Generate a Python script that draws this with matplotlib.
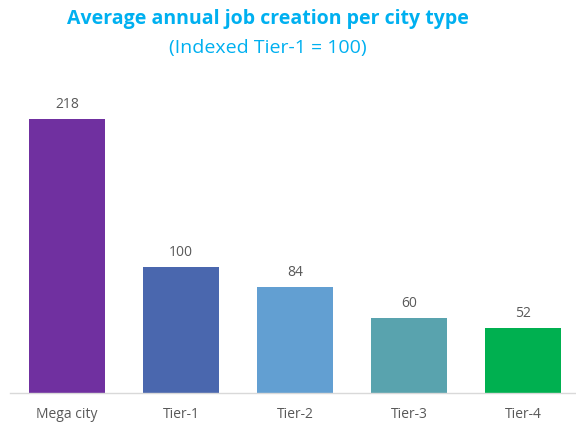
import matplotlib
matplotlib.use("Agg")
import matplotlib.pyplot as plt

# ── Data ──────────────────────────────────────────────────────────────────────
categories = ["Mega city", "Tier-1", "Tier-2", "Tier-3", "Tier-4"]
values     = [218, 100, 84, 60, 52]
colors     = ["#7030A0", "#4A67AE", "#629FD2", "#59A3AE", "#00B050"]

TITLE_BLUE = "#00B0F0"
GREY_TXT   = "#595959"

plt.rcParams["font.family"] = ["Open Sans", "DejaVu Sans"]

fig = plt.figure(figsize=(5.76, 4.23), dpi=100)
ax = fig.add_axes([10 / 576, 30 / 423, 570 / 576, 313 / 423])

x = range(len(categories))
bars = ax.bar(x, values, width=0.67, color=colors)

for b, v in zip(bars, values):
    ax.annotate(str(v), (b.get_x() + b.get_width() / 2, v),
                xytext=(0, 5), textcoords="offset points",
                ha="center", va="bottom", fontsize=10, color=GREY_TXT)

ax.set_xlim(-0.5, 4.5)
ax.set_ylim(0, 249)
ax.set_xticks(list(x))
ax.set_xticklabels(categories, fontsize=10, color=GREY_TXT)
ax.tick_params(axis="x", length=0, pad=10)
ax.set_yticks([])
for s in ["top", "right", "left"]:
    ax.spines[s].set_visible(False)
ax.spines["bottom"].set_color("#D9D9D9")
ax.spines["bottom"].set_linewidth(1.0)

fig.text(268 / 576, 1 - 19 / 423, "Average annual job creation per city type",
         ha="center", va="center", fontsize=14, fontweight="bold",
         color=TITLE_BLUE)
fig.text(268 / 576, 1 - 48 / 423, "(Indexed Tier-1 = 100)",
         ha="center", va="center", fontsize=14, color=TITLE_BLUE)

fig.savefig("out.png", dpi=100)
